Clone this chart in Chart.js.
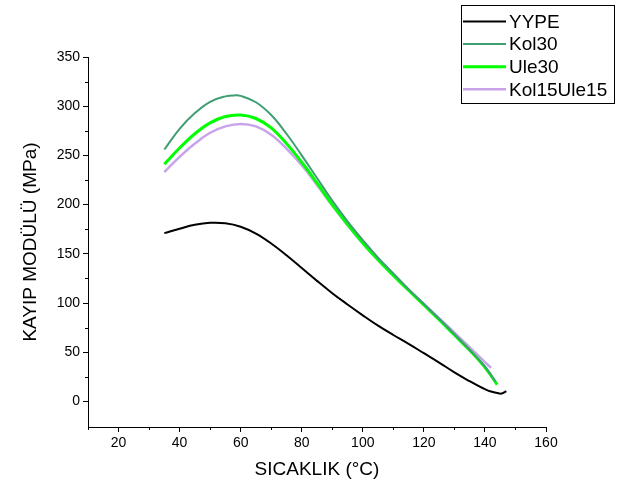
<!DOCTYPE html>
<html>
<head>
<meta charset="utf-8">
<script src="https://cdn.jsdelivr.net/npm/chart.js@4.4.1/dist/chart.umd.min.js"></script>
<style>
  html, body { margin: 0; padding: 0; background: #fff; }
  #chart { display: block; }
</style>
</head>
<body>
<canvas id="chart" width="618" height="491"></canvas>
<script>
const seriesNames = ['YYPE', 'Kol30', 'Ule30', 'Kol15Ule15'];

const tempYYPE = [35, 40, 45, 50, 55, 60, 65, 70, 75, 80, 85, 90, 95, 100, 105, 110, 115, 120, 125, 130, 135, 138, 140, 142, 144, 145.5, 147];
const lossYYPE = [171, 175.5, 179.5, 181.5, 181, 177.5, 170.5, 160.5, 148.5, 135.5, 122.5, 110, 98.5, 87.5, 77, 67.5, 58.5, 49, 39.5, 29.5, 20.5, 15.5, 12.5, 10, 8.5, 8, 10.5];

const tempKol30 = [35, 40, 45, 50, 55, 58, 60, 65, 70, 75, 80, 85, 90, 95, 100, 105, 110, 115, 120, 125, 130, 135, 140, 143.5];
const lossKol30 = [256, 277, 293, 304.5, 310, 311, 310.5, 304, 291, 272, 250, 227, 204, 183, 164, 146, 130, 114, 99, 84, 68.5, 52.5, 35.5, 20];

const tempUle30 = [35, 40, 45, 50, 55, 60, 65, 70, 75, 80, 85, 90, 95, 100, 105, 110, 115, 120, 125, 130, 135, 138, 141, 144];
const lossUle30 = [241, 257.5, 272, 283, 289.5, 291, 287.5, 278, 262, 243, 222, 200, 180, 161, 144, 128, 113, 98, 83, 67.5, 52, 42, 30.5, 17];

const tempKol15Ule15 = [35, 40, 45, 50, 55, 60, 65, 70, 75, 80, 85, 90, 95, 100, 105, 110, 115, 120, 125, 130, 135, 140, 142];
const lossKol15Ule15 = [233, 248.5, 262, 273, 279.5, 282, 279.5, 271, 257, 240, 220, 199, 179, 160.5, 143.5, 128, 113, 99, 84.5, 70, 55, 40, 34];

const xMajorTicks = [20, 40, 60, 80, 100, 120, 140, 160];
const xMinorTicks = [10, 30, 50, 70, 90, 110, 130, 150];
const yMajorTicks = [0, 50, 100, 150, 200, 250, 300, 350];
const yMinorTicks = [25, 75, 125, 175, 225, 275, 325];

const FONT = 'Arial, "Liberation Sans", sans-serif';

const toPoints = (xs, ys) => xs.map((x, i) => ({ x: x, y: ys[i] }));

// short outward ticks between the labelled ones
const minorTicks = {
    id: 'minorTicks',
    afterDraw(chart) {
        const ctx = chart.ctx;
        const xs = chart.scales.x;
        const ys = chart.scales.y;
        ctx.save();
        ctx.strokeStyle = '#000';
        ctx.lineWidth = 1;
        ctx.beginPath();
        xMinorTicks.forEach(v => {
            const px = Math.round(xs.getPixelForValue(v)) + 0.5;
            ctx.moveTo(px, xs.top);
            ctx.lineTo(px, xs.top + 3);
        });
        yMinorTicks.forEach(v => {
            const py = Math.round(ys.getPixelForValue(v)) + 0.5;
            ctx.moveTo(ys.right, py);
            ctx.lineTo(ys.right - 3, py);
        });
        ctx.stroke();
        ctx.restore();
    }
};

// boxed legend in the top right corner
const boxLegend = {
    id: 'boxLegend',
    afterDraw(chart) {
        const ctx = chart.ctx;
        const left = 461, top = 5, width = 153, height = 98;
        const rowGap = 22.6;
        ctx.save();
        ctx.strokeStyle = '#000';
        ctx.lineWidth = 1;
        ctx.strokeRect(left + 0.5, top + 0.5, width, height);
        ctx.font = '19px ' + FONT;
        ctx.textBaseline = 'middle';
        ctx.fillStyle = '#000';
        chart.data.datasets.forEach((ds, i) => {
            const y = top + 16.5 + i * rowGap;
            ctx.strokeStyle = ds.borderColor;
            ctx.lineWidth = ds.borderWidth;
            ctx.beginPath();
            ctx.moveTo(left + 2, y);
            ctx.lineTo(left + 45, y);
            ctx.stroke();
            ctx.fillText(ds.label, left + 48, y + 1);
        });
        ctx.restore();
    }
};

new Chart(document.getElementById('chart').getContext('2d'), {
    type: 'line',
    data: {
        datasets: [
            { label: seriesNames[0], data: toPoints(tempYYPE, lossYYPE), borderColor: '#000000', borderWidth: 2 },
            { label: seriesNames[1], data: toPoints(tempKol30, lossKol30), borderColor: '#3f9e72', borderWidth: 2 },
            { label: seriesNames[2], data: toPoints(tempUle30, lossUle30), borderColor: '#00ff00', borderWidth: 3 },
            { label: seriesNames[3], data: toPoints(tempKol15Ule15, lossKol15Ule15), borderColor: '#c9a3ea', borderWidth: 2.5 }
        ]
    },
    options: {
        responsive: false,
        animation: false,
        events: [],
        datasets: {
            line: { pointRadius: 0, fill: false, tension: 0.4 }
        },
        layout: { padding: { top: 57, right: 72, bottom: 0, left: 0 } },
        plugins: { legend: { display: false }, tooltip: { enabled: false } },
        scales: {
            x: {
                type: 'linear',
                min: 10,
                max: 160,
                afterBuildTicks: scale => { scale.ticks = xMajorTicks.map(v => ({ value: v })); },
                afterFit: scale => { scale.height = 64; },
                grid: { display: true, drawOnChartArea: false, drawTicks: true, tickLength: 5, tickColor: '#000' },
                border: { display: true, color: '#000', width: 1 },
                ticks: { color: '#000', padding: 3, maxRotation: 0, font: { family: FONT, size: 14 } },
                title: { display: true, text: 'SICAKLIK (°C)', color: '#000', padding: { top: 0, bottom: 10 }, font: { family: FONT, size: 19 } }
            },
            y: {
                type: 'linear',
                min: -26,
                max: 350,
                afterBuildTicks: scale => { scale.ticks = yMajorTicks.map(v => ({ value: v })); },
                afterFit: scale => { scale.width = 88; },
                grid: { display: true, drawOnChartArea: false, drawTicks: true, tickLength: 5, tickColor: '#000' },
                border: { display: true, color: '#000', width: 1 },
                ticks: { color: '#000', padding: 3, font: { family: FONT, size: 14 } },
                title: { display: true, text: 'KAYIP MODÜLÜ (MPa)', color: '#000', padding: { top: 19, bottom: 0 }, font: { family: FONT, size: 19 } }
            }
        }
    },
    plugins: [minorTicks, boxLegend]
});
</script>
</body>
</html>
